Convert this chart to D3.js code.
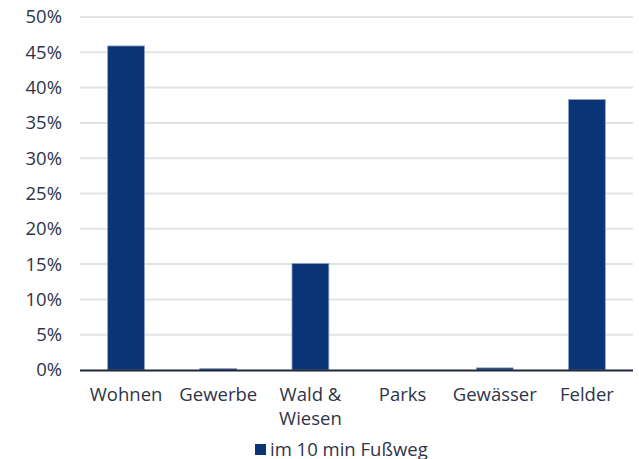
<!DOCTYPE html>
<html><head><meta charset="utf-8">
<script src="https://cdn.jsdelivr.net/npm/d3@7"></script>
<style>body{margin:0;background:#fff}text{font-family:"Open Sans",Lato,sans-serif}</style>
</head><body><svg id="c" width="639" height="459"></svg>
<script>
const categories = ["Wohnen", "Gewerbe", "Wald & Wiesen", "Parks", "Gewässer", "Felder"];
const categoryLines = [["Wohnen"], ["Gewerbe"], ["Wald &", "Wiesen"], ["Parks"], ["Gewässer"], ["Felder"]];
const values = [45.9, 0.2, 15.1, 0, 0.3, 38.3];
const yTicks = [0, 5, 10, 15, 20, 25, 30, 35, 40, 45, 50];
const seriesName = "im 10 min Fußweg";

(function () {
const svg = d3.select("#c");
const pL = 80, pR = 633, pT = 17, pB = 370;
const textColor = "#2e3548";
const barColor = "#0b3477";
const fs = 18.5;

const x = d3.scaleBand().domain(categories).range([pL, pR]).paddingInner(0.6).paddingOuter(0.3);
const y = d3.scaleLinear().domain([0, 50]).range([pB, pT]);

svg.append("g").selectAll("line").data(yTicks.filter(d => d > 0)).join("line")
  .attr("x1", pL).attr("x2", pR)
  .attr("y1", d => y(d)).attr("y2", d => y(d))
  .attr("stroke", "#e3e3e3").attr("stroke-width", 2);

svg.append("g").selectAll("text").data(yTicks).join("text")
  .attr("x", 62).attr("y", d => y(d)).attr("dy", "0.35em")
  .attr("text-anchor", "end").attr("font-size", fs).attr("fill", textColor)
  .text(d => d + "%");

svg.append("g").selectAll("rect").data(values).join("rect")
  .attr("x", (d, i) => x(categories[i]))
  .attr("width", x.bandwidth())
  .attr("y", d => y(d))
  .attr("height", d => pB - y(d))
  .attr("fill", barColor)
  .attr("stroke", "#8ea4c8").attr("stroke-width", 0.8);

svg.append("line").attr("x1", pL).attr("x2", pR).attr("y1", pB + 0.5).attr("y2", pB + 0.5)
  .attr("stroke", "#1f2638").attr("stroke-width", 2);

const cl = svg.append("g").selectAll("text").data(categories).join("text")
  .attr("x", d => x(d) + x.bandwidth() / 2)
  .attr("y", 401)
  .attr("text-anchor", "middle").attr("font-size", fs).attr("fill", textColor);
cl.selectAll("tspan").data((d, i) => categoryLines[i]).join("tspan")
  .attr("x", function () { return d3.select(this.parentNode).attr("x"); })
  .attr("dy", (d, j) => j === 0 ? 0 : 23.5)
  .text(d => d);

svg.append("rect").attr("x", 255).attr("y", 444).attr("width", 11).attr("height", 11).attr("fill", barColor);
svg.append("text").attr("x", 270).attr("y", 455.5).attr("font-size", fs).attr("fill", textColor).text(seriesName);
})();
</script></body></html>
